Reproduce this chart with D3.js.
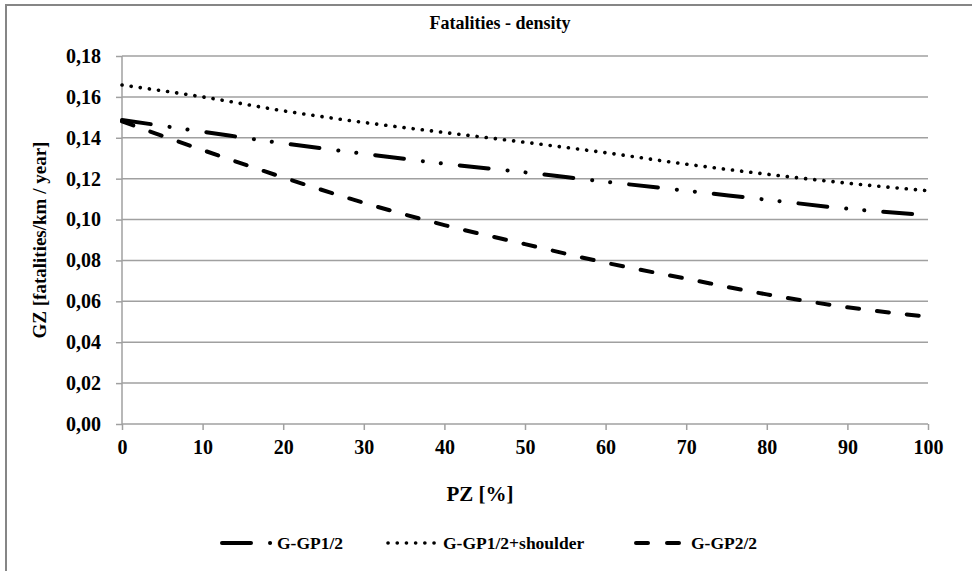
<!DOCTYPE html>
<html>
<head>
<meta charset="utf-8">
<script src="https://cdnjs.cloudflare.com/ajax/libs/d3/7.8.5/d3.min.js"></script>
<style>
  body { margin: 0; background: #fff; }
</style>
</head>
<body>
<script>
// values
var pz = [0, 10, 20, 30, 40, 50, 60, 70, 80, 90, 100];
var gp12 = [0.1487, 0.1430, 0.1373, 0.1322, 0.1273, 0.1231, 0.1185, 0.1141, 0.1097, 0.1053, 0.1022];
var gp12shoulder = [0.1658, 0.1600, 0.1532, 0.1475, 0.1426, 0.1378, 0.1327, 0.1271, 0.1222, 0.1178, 0.1141];
var gp22 = [0.1480, 0.1340, 0.1206, 0.1082, 0.0973, 0.0880, 0.0789, 0.0711, 0.0634, 0.0571, 0.0525];
var seriesNames = ["G-GP1/2", "G-GP1/2+shoulder", "G-GP2/2"];
var yTicks = [0, 0.02, 0.04, 0.06, 0.08, 0.10, 0.12, 0.14, 0.16, 0.18];
var xTicks = [0, 10, 20, 30, 40, 50, 60, 70, 80, 90, 100];

var W = 972, H = 571;
var margin = {top: 56, right: 44, bottom: 147, left: 122},
    width = W - margin.left - margin.right,
    height = H - margin.top - margin.bottom;
var serif = "Liberation Serif";

// dash styles like excel: long dash dot dot, round dot, dash
var styles = [
  {dash: "29 19 0.1 18 0.1 19", w: 4},
  {dash: "0.1 9.1", w: 3.6},
  {dash: "12 18", w: 4}
];

var series = [gp12, gp12shoulder, gp22].map(function(vals, i) {
  return {name: seriesNames[i], values: vals.map(function(v, j) { return {x: pz[j], y: v}; })};
});

var svg = d3.select("body").append("svg")
    .attr("width", W)
    .attr("height", H);

// outer chart frame (cut off at right and bottom like the original)
svg.append("rect")
    .attr("x", 6).attr("y", 5)
    .attr("width", W + 20).attr("height", H + 20)
    .attr("fill", "#fff")
    .attr("stroke", "#868686")
    .attr("stroke-width", 2);

var g = svg.append("g")
    .attr("transform", "translate(" + margin.left + "," + margin.top + ")");

var x = d3.scaleLinear().domain([0, 100]).range([0, width]);
var y = d3.scaleLinear().domain([0, 0.18]).range([height, 0]);

// gridlines
g.append("g")
    .selectAll("line")
    .data(yTicks.slice(1))
    .enter().append("line")
    .attr("x1", 0).attr("x2", width)
    .attr("y1", function(d) { return y(d); })
    .attr("y2", function(d) { return y(d); })
    .attr("stroke", "#a0a0a0")
    .attr("stroke-width", 1.5);

var fmt = function(d) { return d3.format(".2f")(d).replace(".", ","); };

var yAxis = g.append("g")
    .call(d3.axisLeft(y).tickValues(yTicks).tickSize(6).tickPadding(15).tickFormat(fmt));
var xAxis = g.append("g")
    .attr("transform", "translate(0," + height + ")")
    .call(d3.axisBottom(x).tickValues(xTicks).tickSize(6).tickPadding(10).tickFormat(d3.format("d")));

[yAxis, xAxis].forEach(function(a) {
  a.select(".domain").attr("stroke", "#a0a0a0").attr("stroke-width", 1.5);
  a.selectAll(".tick line").attr("stroke", "#a0a0a0").attr("stroke-width", 1.5);
  a.selectAll("text")
    .attr("font-family", serif)
    .attr("font-weight", "bold")
    .attr("font-size", 20)
    .attr("fill", "#000");
});
// no outer tick stubs on the axis lines
yAxis.select(".domain").attr("d", "M0," + height + "V0");
xAxis.select(".domain").attr("d", "M0,0H" + width);

var line = d3.line()
    .x(function(d) { return x(d.x); })
    .y(function(d) { return y(d.y); })
    .curve(d3.curveMonotoneX);

g.selectAll(".series")
    .data(series)
    .enter().append("path")
    .attr("class", "series")
    .attr("fill", "none")
    .attr("stroke", "#000")
    .attr("stroke-linecap", "round")
    .attr("stroke-width", function(d, i) { return styles[i].w; })
    .attr("stroke-dasharray", function(d, i) { return styles[i].dash; })
    .attr("d", function(d) { return line(d.values); });

// titles
svg.append("text")
    .attr("x", 500).attr("y", 29)
    .attr("text-anchor", "middle")
    .attr("font-family", serif)
    .attr("font-weight", "bold")
    .attr("font-size", 18)
    .text("Fatalities - density");

svg.append("text")
    .attr("transform", "translate(46," + (margin.top + height / 2) + ") rotate(-90)")
    .attr("text-anchor", "middle")
    .attr("font-family", serif)
    .attr("font-weight", "bold")
    .attr("font-size", 19)
    .text("GZ [fatalities/km / year]");

svg.append("text")
    .attr("x", 480).attr("y", 501)
    .attr("text-anchor", "middle")
    .attr("font-family", serif)
    .attr("font-weight", "bold")
    .attr("font-size", 21)
    .text("PZ [%]");

// legend
var legendX = [220, 386, 634];
var leg = svg.selectAll(".legend")
    .data(series)
    .enter().append("g")
    .attr("class", "legend")
    .attr("transform", function(d, i) { return "translate(" + legendX[i] + ",543)"; });

leg.append("line")
    .attr("x1", 2).attr("x2", 52)
    .attr("stroke", "#000")
    .attr("stroke-linecap", "round")
    .attr("stroke-width", function(d, i) { return styles[i].w; })
    .attr("stroke-dasharray", function(d, i) { return i == 2 ? "12 19" : styles[i].dash; });

leg.append("text")
    .attr("x", 57).attr("y", 6)
    .attr("font-family", serif)
    .attr("font-weight", "bold")
    .attr("font-size", 17.5)
    .text(function(d) { return d.name; });
</script>
</body>
</html>
